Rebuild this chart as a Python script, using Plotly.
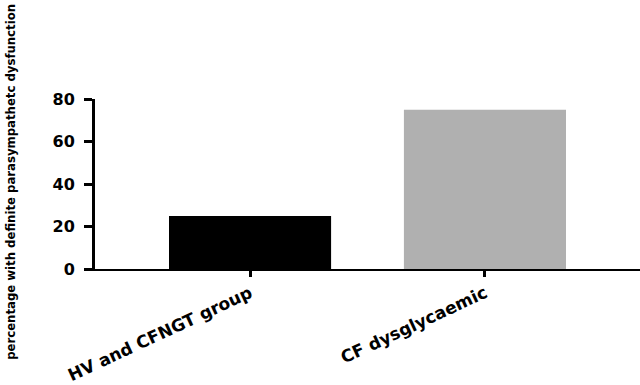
import plotly.graph_objects as go

categories = ["HV and CFNGT group", "CF dysglycaemic"]
values = [25, 75]
bar_colors = ["#000000", "#b0b0b0"]
y_ticks = [0, 20, 40, 60, 80]
y_title = "percentage with definite parasympathetc dysfunction"

fig = go.Figure()
fig.add_trace(go.Bar(x=categories, y=values, marker=dict(color=bar_colors, line=dict(width=0)),
                     width=0.69))

fig.update_layout(
    width=640, height=385,
    margin=dict(l=95, r=0, t=99, b=116),
    plot_bgcolor="white", paper_bgcolor="white",
    showlegend=False,
    xaxis=dict(range=[-0.66, 1.66], showline=True, linecolor="black", linewidth=2,
               ticks="outside", ticklen=6, tickwidth=3, tickcolor="black",
               tickangle=-25,
               tickfont=dict(family="DejaVu Sans", size=17, color="black", weight="bold"),
               showgrid=False, zeroline=False, automargin=False),
    yaxis=dict(range=[0, 80], tickvals=y_ticks, showline=True, linecolor="black", linewidth=3,
               ticks="outside", ticklen=8, tickwidth=2.5, tickcolor="black",
               ticklabelstandoff=6,
               tickfont=dict(family="DejaVu Sans", size=16, color="black", weight="bold"),
               showgrid=False, zeroline=False, automargin=False),
    annotations=[dict(text=y_title, textangle=-90, xref="paper", yref="paper",
                      x=-0.155, y=0.51, xanchor="center", yanchor="middle", showarrow=False,
                      font=dict(family="DejaVu Sans Condensed, Liberation Sans Narrow", size=13,
                                color="black", weight="bold"))],
)

fig.write_html("out.html", post_script="document.body.style.margin='0px';",
               config={"displayModeBar": False})
